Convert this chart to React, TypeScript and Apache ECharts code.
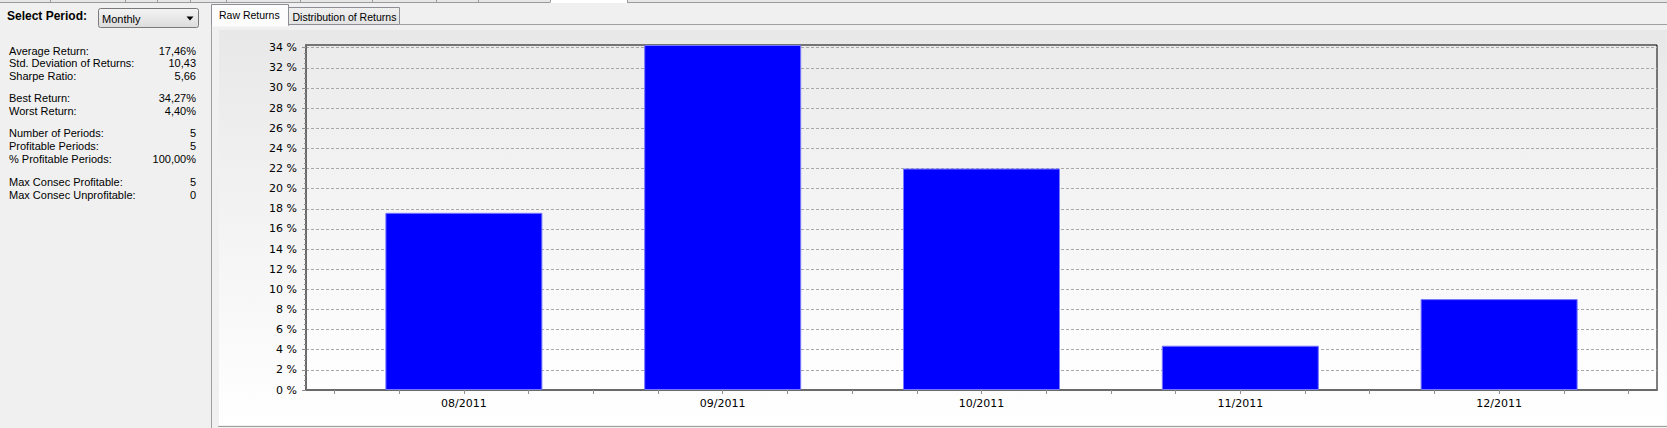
import React, { useEffect, useRef } from "react";
import * as echarts from "echarts";

const categories = ["08/2011", "09/2011", "10/2011", "11/2011", "12/2011"];
const returnsPct = [17.6, 34.27, 22.0, 4.4, 9.03];
const yTickValues = [0, 2, 4, 6, 8, 10, 12, 14, 16, 18, 20, 22, 24, 26, 28, 30, 32, 34];
const xCategoryPositions = [0, 1, 2, 3, 4];
const xTickValues = [-0.5, -0.25, 0, 0.25, 0.5, 0.75, 1, 1.25, 1.5, 1.75, 2, 2.25, 2.5, 2.75, 3, 3.25, 3.5, 3.75, 4, 4.25, 4.5];

const statLabels = [
  "Average Return:",
  "Std. Deviation of Returns:",
  "Sharpe Ratio:",
  "Best Return:",
  "Worst Return:",
  "Number of Periods:",
  "Profitable Periods:",
  "% Profitable Periods:",
  "Max Consec Profitable:",
  "Max Consec Unprofitable:",
];
const statValues = ["17,46%", "10,43", "5,66", "34,27%", "4,40%", "5", "5", "100,00%", "5", "0"];
const statRowY = [50.7, 63.3, 76, 98.3, 111, 133.3, 145.7, 158.7, 182, 194.7];

const topTabSeparators = [50, 125, 157, 190, 226, 300, 372, 436, 478, 550, 627];

export default function App() {
  const ref = useRef<HTMLDivElement>(null);

  useEffect(() => {
    if (!ref.current) return;
    const chart = echarts.init(ref.current, undefined, { renderer: "svg" });
    const uiFont = '11px "Liberation Sans", Arial, sans-serif';
    const tabFont = '10.5px "Liberation Sans", Arial, sans-serif';
    const gray = "#a0a0a0";

    const graphics: any[] = [];
    // top strip of outer tab control
    graphics.push({
      type: "rect",
      z: -10,
      shape: { x: 0, y: 0, width: 1667, height: 2.5 },
      style: { fill: "#e6e6e6" },
    });
    graphics.push({
      type: "rect",
      z: -9,
      shape: { x: 550, y: 0, width: 77, height: 3 },
      style: { fill: "#ffffff" },
    });
    graphics.push({
      type: "line",
      z: -8,
      shape: { x1: 0, y1: 2.5, x2: 550, y2: 2.5 },
      style: { stroke: "#9a9a9a", lineWidth: 1 },
    });
    graphics.push({
      type: "line",
      z: -8,
      shape: { x1: 627, y1: 2.5, x2: 1667, y2: 2.5 },
      style: { stroke: "#9a9a9a", lineWidth: 1 },
    });
    topTabSeparators.forEach((sx) => {
      graphics.push({
        type: "line",
        z: -8,
        shape: { x1: sx + 0.5, y1: 0, x2: sx + 0.5, y2: 2.5 },
        style: { stroke: "#9a9a9a", lineWidth: 1 },
      });
    });

    // tab content border
    graphics.push({
      type: "line",
      z: -8,
      shape: { x1: 400, y1: 24.5, x2: 1667, y2: 24.5 },
      style: { stroke: gray, lineWidth: 1 },
    });
    graphics.push({
      type: "line",
      z: -8,
      shape: { x1: 211.5, y1: 24, x2: 211.5, y2: 428 },
      style: { stroke: gray, lineWidth: 1 },
    });
    // chart panel
    graphics.push({
      type: "rect",
      z: -10,
      shape: { x: 219, y: 30, width: 1448, height: 395 },
      style: {
        fill: new echarts.graphic.LinearGradient(0, 0, 0, 1, [
          { offset: 0, color: "#e8e8e8" },
          { offset: 1, color: "#ffffff" },
        ]),
      },
    });
    graphics.push({
      type: "line",
      z: -8,
      shape: { x1: 218, y1: 426.5, x2: 1667, y2: 426.5 },
      style: { stroke: gray, lineWidth: 1 },
    });

    // tabs
    graphics.push({
      type: "rect",
      z: -5,
      shape: { x: 288.5, y: 7.5, width: 111, height: 17 },
      style: {
        fill: new echarts.graphic.LinearGradient(0, 0, 0, 1, [
          { offset: 0, color: "#f0f0f0" },
          { offset: 1, color: "#e2e2e2" },
        ]),
        stroke: "#8c8e94",
        lineWidth: 1,
      },
    });
    graphics.push({
      type: "rect",
      z: -4,
      shape: { x: 211.5, y: 4.5, width: 77, height: 21 },
      style: { fill: "#fcfcfc", stroke: "#8c8e94", lineWidth: 1 },
    });
    graphics.push({
      type: "line",
      z: -3,
      shape: { x1: 212, y1: 25.5, x2: 288, y2: 25.5 },
      style: { stroke: "#fcfcfc", lineWidth: 2 },
    });
    graphics.push({
      type: "text",
      z: 10,
      style: { text: "Raw Returns", x: 219, y: 14.5, font: tabFont, fill: "#000", textAlign: "left", textVerticalAlign: "middle" },
    });
    graphics.push({
      type: "text",
      z: 10,
      style: { text: "Distribution of Returns", x: 292.5, y: 16.5, font: tabFont, fill: "#000", textAlign: "left", textVerticalAlign: "middle" },
    });

    // left panel
    graphics.push({
      type: "text",
      z: 10,
      style: {
        text: "Select Period:",
        x: 7,
        y: 15.5,
        font: 'bold 12px "Liberation Sans", Arial, sans-serif',
        fill: "#000",
        textAlign: "left",
        textVerticalAlign: "middle",
      },
    });
    graphics.push({
      type: "rect",
      z: 5,
      shape: { x: 98.5, y: 8.5, width: 100, height: 19, r: 2 },
      style: {
        fill: new echarts.graphic.LinearGradient(0, 0, 0, 1, [
          { offset: 0, color: "#f4f4f4" },
          { offset: 1, color: "#dcdcdc" },
        ]),
        stroke: "#7a7a7a",
        lineWidth: 1,
      },
    });
    graphics.push({
      type: "text",
      z: 10,
      style: { text: "Monthly", x: 102, y: 19, font: uiFont, fill: "#000", textAlign: "left", textVerticalAlign: "middle" },
    });
    graphics.push({
      type: "polygon",
      z: 10,
      shape: { points: [[186.5, 16.5], [193.5, 16.5], [190, 20.5]] },
      style: { fill: "#000" },
    });
    statLabels.forEach((label, i) => {
      graphics.push({
        type: "text",
        z: 10,
        style: { text: label, x: 9, y: statRowY[i], font: uiFont, fill: "#000", textAlign: "left", textVerticalAlign: "middle" },
      });
      graphics.push({
        type: "text",
        z: 10,
        style: { text: statValues[i], x: 196, y: statRowY[i], font: uiFont, fill: "#000", textAlign: "right", textVerticalAlign: "middle" },
      });
    });

    const axisFont = { fontFamily: '"DejaVu Sans", Verdana, sans-serif', fontSize: 11, color: "#000" };

    chart.setOption({
      animation: false,
      backgroundColor: "#f0f0f0",
      graphic: { elements: graphics },
      grid: {
        left: 306,
        right: 10,
        top: 45,
        bottom: 38,
        show: true,
        borderColor: "#000",
        borderWidth: 1,
        backgroundColor: new echarts.graphic.LinearGradient(0, 0, 0, 1, [
          { offset: 0, color: "#ebebeb" },
          { offset: 1, color: "#ffffff" },
        ]),
      },
      xAxis: {
        type: "value",
        min: -0.61,
        max: 4.61,
        axisLine: { show: true, onZero: false, lineStyle: { color: "#6a6a6a", width: 2 } },
        axisTick: { show: true, customValues: xTickValues, length: 4, lineStyle: { color: "#909090" } },
        axisLabel: {
          show: true,
          customValues: xCategoryPositions,
          formatter: (v: number) => categories[Math.round(v)] ?? "",
          margin: 8,
          ...axisFont,
        },
        splitLine: { show: false },
      },
      yAxis: {
        type: "value",
        min: 0,
        max: 34.27,
        interval: 2,
        axisLine: { show: true, onZero: false, lineStyle: { color: "#6a6a6a", width: 2 } },
        axisTick: { show: true, customValues: yTickValues, length: 4, lineStyle: { color: "#909090" } },
        minorTick: { show: true, splitNumber: 4, length: 2, lineStyle: { color: "#909090" } },
        axisLabel: {
          show: true,
          customValues: yTickValues,
          formatter: (v: number) => `${v} %`,
          margin: 9,
          ...axisFont,
        },
        splitLine: { show: true, lineStyle: { color: "#a8a8a8", type: [3, 2], width: 1 } },
      },
      series: [
        {
          type: "bar",
          data: returnsPct.map((v, i) => [xCategoryPositions[i], v]),
          barWidth: 157,
          itemStyle: { color: "#0000ff", borderColor: "#7777ff", borderWidth: 1 },
          z: 3,
        },
      ],
    });

    return () => chart.dispose();
  }, []);

  return (
    <div
      ref={ref}
      style={{ position: "fixed", left: 0, top: 0, width: 1667, height: 428 }}
    />
  );
}
